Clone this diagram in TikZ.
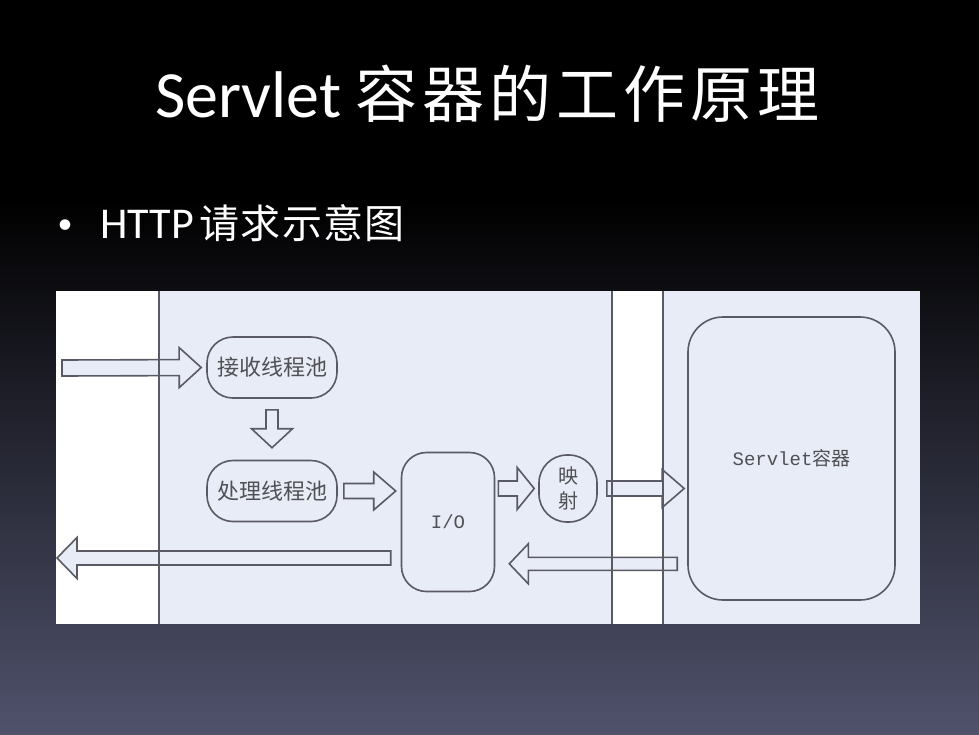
\documentclass[tikz,border=0pt]{standalone}
\usepackage{fontspec}
\setmainfont{Carlito}
\newfontfamily\cjk{Noto Sans CJK SC}
\newfontfamily\cjkwide[LetterSpace=8]{Noto Sans CJK SC}
\newfontfamily\cjksub[LetterSpace=3]{Noto Sans CJK SC}
\newfontfamily\latinmono{Liberation Mono}
\usetikzlibrary{calc}
\definecolor{slidetop}{RGB}{0,0,0}
\definecolor{slidebottom}{RGB}{80,82,108}
\definecolor{panel}{RGB}{231,236,246}
\definecolor{edge}{RGB}{90,90,100}
\definecolor{label}{RGB}{80,80,85}

% block arrow: from, to, half shaft, half head, head length
\newcommand{\blockarrow}[5]{%
  \path (#1) coordinate (ba-s) (#2) coordinate (ba-e);
  \path ($(ba-e)!#5!(ba-s)$) coordinate (ba-h);
  \draw[fatarrow] ($(ba-s)!#3!90:(ba-e)$) -- ($(ba-h)!#3!-90:(ba-s)$)
    -- ($(ba-h)!#4!-90:(ba-s)$) -- (ba-e) -- ($(ba-h)!#4!90:(ba-s)$)
    -- ($(ba-h)!#3!90:(ba-s)$) -- ($(ba-s)!#3!-90:(ba-e)$) -- cycle;
}

\begin{document}
\begin{tikzpicture}[
  x=1pt, y=-1pt,
  pool/.style={draw=edge, line width=1.6pt, fill=panel, rounded corners=26pt,
    minimum width=130pt, minimum height=61pt, text=label, inner sep=2pt,
    font=\cjk\fontsize{22}{24}\selectfont},
  roundbox/.style={draw=edge, line width=1.6pt, fill=panel, text=label,
    align=center, font=\latinmono\fontsize{19}{22}\selectfont},
  fatarrow/.style={draw=edge, line width=1.6pt, fill=panel, line join=miter},
  divider/.style={draw=edge, line width=1.6pt},
  heading/.style={text=white, inner sep=0pt, anchor=base west}
]
  \useasboundingbox (0,0) rectangle (979,734);

  % slide background
  \fill[slidetop] (0,0) rectangle (979,734);
  \shade[top color=slidetop, bottom color=slidebottom] (0,200) rectangle (979,734);

  % titles
  \node[heading, font=\fontsize{66}{70}\selectfont] (title) at (155,117)
    {Servlet\hspace{14pt}{\cjkwide\fontsize{62}{70}\selectfont 容器的工作原理}};
  \node[heading, anchor=base, font=\fontsize{30}{34}\selectfont] (dot) at (65,233) {•};
  \node[heading, font=\fontsize{44}{48}\selectfont] (sub) at (100,238)
    {HTTP\hspace{6pt}{\cjksub\fontsize{40}{44}\selectfont 请求示意图}};

  % diagram panel
  \fill[panel] (56,291) rectangle (920,624);
  \fill[white] (56,291) rectangle (159,624);
  \fill[white] (612,291) rectangle (663,624);

  % boxes
  \node[pool] (recv) at (272,367.5) {接收线程池};
  \node[pool] (proc) at (272,491) {处理线程池};
  \node[roundbox, rounded corners=25pt, minimum width=93pt, minimum height=139pt]
    (io) at (448,522) {I/O};
  \node[roundbox, rounded corners=28pt, minimum width=58pt, minimum height=67pt,
    inner sep=0pt, font=\cjk\fontsize{20}{25}\selectfont] (map) at (568,488.5) {映\\射};
  \node[roundbox, rounded corners=35pt, minimum width=207pt, minimum height=283pt]
    (servlet) at (791.5,458.5) {Servlet{\cjk 容器}};

  % request flow
  \coordinate (entry) at (62,368);
  \coordinate (exit) at (57,558);
  \blockarrow{entry}{[xshift=-5pt]recv.west}{8pt}{20pt}{22pt}
  \blockarrow{[yshift=-11pt]recv.south}{[yshift=12pt]proc.north}{6pt}{20.5pt}{19pt}
  \blockarrow{[xshift=6pt]proc.east}{$(io.west |- proc.east)+(-5,0)$}{7.5pt}{19pt}{22pt}
  \blockarrow{$(io.east |- map.west)+(3,0)$}{[xshift=-4pt]map.west}{7.5pt}{21pt}{17pt}
  \blockarrow{[xshift=9pt]map.east}{$(servlet.west |- map.east)+(-3,0)$}{7.5pt}{19pt}{22pt}

  % response flow
  \coordinate (ret) at ($(servlet.south west)+(-10,-37)$);
  \blockarrow{ret}{$(io.east |- ret)+(14,0)$}{6.5pt}{20pt}{19pt}
  \blockarrow{$(io.west |- exit)+(-10,0)$}{exit}{7pt}{20.5pt}{20pt}

  % strip borders
  \draw[divider] (159,291) -- (159,624);
  \draw[divider] (612,291) -- (612,624);
  \draw[divider] (663,291) -- (663,624);
\end{tikzpicture}
\end{document}
